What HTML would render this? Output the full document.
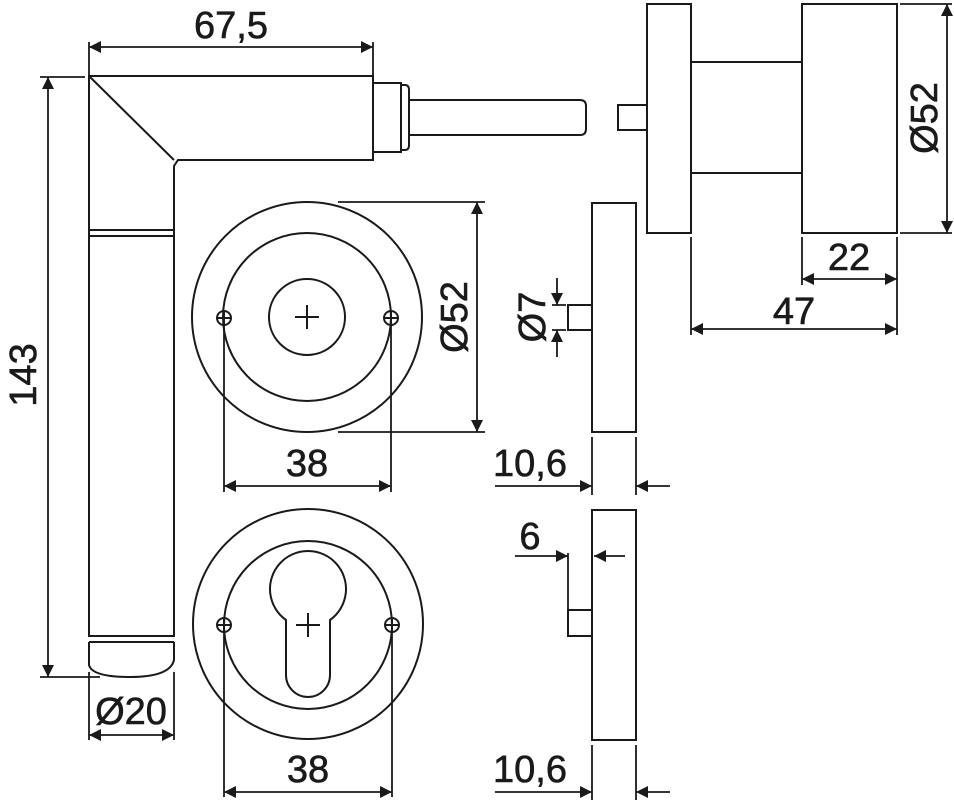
<!DOCTYPE html>
<html><head><style>body{margin:0;background:#fff}svg{display:block}text{font-family:"Liberation Sans",sans-serif;font-size:38px;fill:#1a1a1a;text-anchor:middle;stroke:#1a1a1a;stroke-width:0.6}</style></head><body>
<svg width="954" height="800" viewBox="0 0 954 800" xmlns="http://www.w3.org/2000/svg">
<defs><marker id="a" viewBox="0 0 10 10" refX="10" refY="5" markerWidth="24" markerHeight="12" markerUnits="userSpaceOnUse" orient="auto-start-reverse"><path d="M0,0L10,5L0,10z" fill="#1a1a1a"/></marker></defs>
<g fill="none" stroke="#1a1a1a" stroke-width="2">
<path d="M89,76H373V160H178L174,166V230H89V76Z"/>
<path d="M89,76L174,160"/>
<path d="M89,236H174V636H89Z"/>
<path d="M89,230V236M174,230V236"/>
<path d="M89,642H174"/>
<path d="M89,642V665Q92,677 130,677Q170,677 174,660V642"/>
<rect x="373" y="83" width="28" height="69"/>
<path d="M401,85H405Q409,85 409,90V145Q409,150 405,150H401"/>
<path d="M409,100H580Q586,100 586,106V129Q586,135 580,135H409"/>
<rect x="618" y="105" width="29" height="25"/>
<rect x="647" y="4" width="44" height="229"/>
<path d="M691,62H802M691,173H802"/>
<rect x="802" y="4" width="95" height="229"/>
<circle cx="307" cy="317" r="115"/>
<circle cx="307" cy="317" r="84"/>
<circle cx="307" cy="317" r="38"/>
<path d="M295,317H319M307,305V329"/>
<circle cx="224" cy="318" r="7"/><path d="M217,318H231M224,311V325"/>
<circle cx="391" cy="318" r="7"/><path d="M384,318H398M391,311V325"/>
<circle cx="308" cy="624" r="115"/>
<circle cx="308" cy="625" r="84"/>
<path d="M286,620A38,38 0 1 1 330,620V675A22,22 0 0 1 286,675Z"/>
<path d="M296,625H320M308,613V637"/>
<circle cx="224" cy="625" r="7"/><path d="M217,625H231M224,618V632"/>
<circle cx="392" cy="625" r="7"/><path d="M385,625H399M392,618V632"/>
<rect x="592" y="203" width="44" height="229"/>
<rect x="568" y="305" width="24" height="25"/>
<rect x="592" y="510" width="44" height="230"/>
<rect x="568" y="610" width="24" height="26"/>
</g>
<g fill="none" stroke="#1a1a1a" stroke-width="1.8">
<path d="M89,42V76M373,42V76"/>
<path d="M89,47H373" marker-start="url(#a)" marker-end="url(#a)"/>
<path d="M40,77H85M40,677H100"/>
<path d="M48,77V677" marker-start="url(#a)" marker-end="url(#a)"/>
<path d="M89,672V740M174,672V740"/>
<path d="M89,735H174" marker-start="url(#a)" marker-end="url(#a)"/>
<path d="M338,202H485M338,432H485"/>
<path d="M477,202V432" marker-start="url(#a)" marker-end="url(#a)"/>
<path d="M224,325V492M391,325V492"/>
<path d="M224,486H391" marker-start="url(#a)" marker-end="url(#a)"/>
<path d="M224,632V797M392,632V797"/>
<path d="M224,792H392" marker-start="url(#a)" marker-end="url(#a)"/>
<path d="M552,305H566M552,330H566"/>
<path d="M557,278V305" marker-end="url(#a)"/>
<path d="M557,357V330" marker-end="url(#a)"/>
<path d="M592,437V495M636,437V495"/>
<path d="M495,486H592" marker-end="url(#a)"/>
<path d="M670,486H636" marker-end="url(#a)"/>
<path d="M592,745V800M636,745V800"/>
<path d="M495,792H592" marker-end="url(#a)"/>
<path d="M670,792H636" marker-end="url(#a)"/>
<path d="M568,553V610"/>
<path d="M515,556H568" marker-end="url(#a)"/>
<path d="M625,556H594" marker-end="url(#a)"/>
<path d="M900,4H952M900,233H952"/>
<path d="M947,4V233" marker-start="url(#a)" marker-end="url(#a)"/>
<path d="M802,237V285M897,237V335M691,237V335"/>
<path d="M802,279H897" marker-start="url(#a)" marker-end="url(#a)"/>
<path d="M691,329H897" marker-start="url(#a)" marker-end="url(#a)"/>
</g>
<text x="231" y="38">67,5</text>
<text x="36" y="375" transform="rotate(-90 36 375)">143</text>
<text x="131" y="724">Ø20</text>
<text x="467" y="317" transform="rotate(-90 467 317)">Ø52</text>
<text x="307" y="476">38</text>
<text x="308" y="782">38</text>
<text x="545" y="317" transform="rotate(-90 545 317)">Ø7</text>
<text x="530" y="476">10,6</text>
<text x="530" y="782">10,6</text>
<text x="530" y="549">6</text>
<text x="937" y="118" transform="rotate(-90 937 118)">Ø52</text>
<text x="849" y="270">22</text>
<text x="794" y="324">47</text>
</svg>
</body></html>
